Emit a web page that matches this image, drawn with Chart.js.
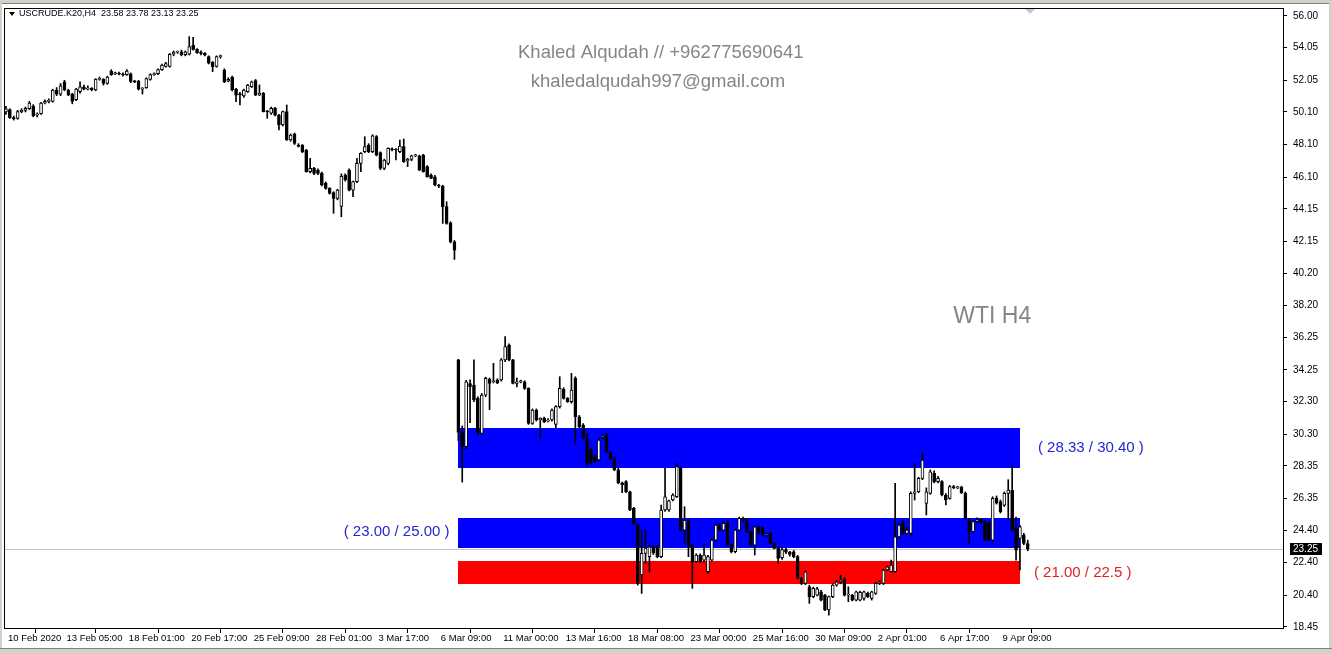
<!DOCTYPE html>
<html><head><meta charset="utf-8">
<script src="https://cdn.jsdelivr.net/npm/chart.js@4.4.0/dist/chart.umd.min.js"></script>
<style>html,body{margin:0;padding:0;background:#fff;overflow:hidden}#wrap{width:1332px;height:654px;position:relative}</style>
</head><body><div id="wrap"><canvas id="c" width="1332" height="654"></canvas></div>
<script>
const symbolTitle = 'USCRUDE.K20,H4  23.58 23.78 23.13 23.25';
const opens = [
50.10,50.25,49.75,49.70,50.12,50.20,50.30,50.45,49.90,50.00,
50.65,50.75,50.75,51.45,51.20,51.95,51.45,51.20,50.85,51.35,
51.65,51.50,51.55,51.45,52.10,52.10,51.85,52.60,52.45,52.48,
52.42,52.40,52.45,51.98,52.00,51.50,51.60,52.10,52.40,52.45,
52.70,52.90,52.90,53.65,53.78,53.80,53.62,53.65,54.20,53.95,
53.75,53.70,53.50,53.15,52.90,53.50,52.68,52.00,52.23,51.49,
51.20,51.08,51.35,51.66,52.03,51.15,51.25,50.12,50.02,50.32,
49.91,49.30,50.12,48.38,48.75,48.07,48.07,47.76,46.43,46.63,
46.53,46.33,45.71,45.40,45.14,44.79,44.30,46.22,46.53,45.30,
45.82,46.94,47.66,48.07,47.66,48.58,47.60,46.63,46.94,47.80,
47.78,47.66,47.97,47.10,47.19,47.40,47.39,47.45,46.74,46.22,
46.12,45.61,45.55,44.28,43.29,42.12,34.86,30.40,29.53,33.40,
33.32,32.50,30.35,32.70,33.67,33.52,33.63,33.63,34.86,35.78,
34.86,33.42,33.52,33.52,33.11,30.96,31.78,31.17,31.27,31.10,
31.17,30.90,31.99,33.05,32.50,32.29,33.73,31.37,30.86,30.04,
29.33,28.90,28.71,30.10,30.25,29.22,28.81,28.10,27.30,27.38,
26.76,25.74,24.71,21.64,22.97,22.77,23.38,23.38,22.77,25.64,
25.64,26.25,26.45,28.20,24.40,25.00,23.48,22.46,22.87,22.56,
21.84,22.56,23.79,24.71,24.40,24.92,23.48,23.07,24.40,25.12,
25.02,24.30,23.48,24.61,24.51,24.10,24.20,23.59,23.28,22.70,
23.20,23.05,23.07,22.77,21.43,21.13,20.92,20.31,20.40,20.61,
20.41,19.49,20.31,21.02,21.23,21.43,20.41,20.41,20.10,20.10,
20.20,20.51,20.20,20.51,21.13,21.13,21.95,21.84,21.84,23.99,
24.92,24.20,24.20,26.66,26.76,27.58,26.04,26.66,27.89,27.38,
27.38,26.56,26.35,27.07,27.00,27.05,26.66,25.02,24.30,24.92,
25.05,24.92,24.82,23.79,26.35,26.15,25.94,26.66,26.86,24.50,
23.89,24.10,23.58];
const highs = [
50.45,50.30,49.85,50.20,50.30,50.40,50.75,50.55,50.05,50.70,
50.85,50.90,51.50,51.60,51.85,52.05,51.50,51.25,51.55,51.95,
51.75,51.70,51.60,52.15,52.25,52.15,52.30,52.70,52.55,52.55,
52.50,52.70,52.50,52.05,52.05,51.60,52.20,52.45,52.50,52.75,
53.05,53.15,53.70,53.85,53.85,53.90,53.85,54.73,54.69,54.00,
53.85,53.75,53.55,53.20,53.55,53.60,52.75,52.20,52.30,51.55,
51.30,51.50,51.80,52.00,52.10,51.76,51.30,50.20,50.40,50.38,
49.95,50.15,50.53,48.75,48.80,48.15,48.10,47.80,47.25,46.70,
46.60,46.40,45.80,45.45,45.20,45.35,46.30,46.30,46.60,45.85,
47.25,47.60,48.58,48.15,48.70,48.65,47.65,47.20,47.90,47.90,
47.85,48.38,48.44,47.25,47.45,47.50,47.45,47.50,46.80,46.30,
46.20,45.65,45.60,44.58,43.35,42.20,34.90,30.80,33.60,33.63,
34.86,32.60,32.80,33.80,33.75,34.65,33.70,34.95,36.29,35.85,
34.90,33.75,33.62,33.58,33.15,31.85,31.85,31.30,31.35,31.25,
31.85,32.05,33.83,33.15,32.55,34.04,33.83,31.45,30.95,30.35,
29.40,29.00,30.00,30.30,30.35,29.25,28.90,28.20,27.35,27.45,
26.80,25.80,24.80,24.40,24.40,23.48,23.45,23.45,25.94,28.20,
26.25,26.65,28.50,28.30,25.84,25.05,23.55,22.95,22.95,23.59,
22.85,23.85,24.80,24.80,24.90,25.00,23.55,24.45,25.20,25.20,
25.10,24.35,24.65,24.70,24.60,24.20,24.25,23.65,23.35,23.35,
23.30,23.10,23.15,22.85,21.50,21.90,21.02,20.90,20.88,20.70,
20.45,20.35,21.10,21.30,21.64,21.50,20.92,20.45,20.65,20.65,
20.65,20.60,20.65,21.20,21.30,22.00,22.20,22.56,27.28,24.80,
25.00,24.55,26.75,28.50,27.65,29.12,27.00,28.10,28.05,27.70,
27.45,26.65,27.15,27.15,27.10,27.10,26.75,25.10,25.00,25.15,
25.10,25.00,24.90,26.45,26.50,26.25,26.75,27.50,28.40,25.20,
24.70,24.20,23.78];
const lows = [
49.95,49.70,49.60,49.65,50.05,50.10,50.25,49.80,49.80,49.95,
50.60,50.65,50.70,51.10,51.10,51.40,51.10,50.60,50.80,51.25,
51.45,51.45,51.40,51.40,52.05,51.75,51.80,52.35,52.40,52.38,
52.30,52.35,51.90,51.90,51.45,51.20,51.55,52.05,52.35,52.40,
52.65,52.85,52.85,53.55,53.70,53.55,53.55,53.60,53.90,53.70,
53.60,53.55,53.05,52.58,52.85,53.40,51.90,51.95,51.40,50.73,
50.53,51.00,51.30,51.60,51.10,51.10,50.10,49.71,49.95,49.85,
48.99,49.25,48.35,48.30,48.10,47.95,47.60,46.40,46.35,46.25,
46.25,45.55,45.35,45.05,43.87,44.70,43.66,45.85,45.25,44.89,
45.75,46.43,47.60,47.60,47.60,47.40,46.55,46.55,46.85,47.70,
47.15,47.60,47.00,46.74,47.10,47.35,46.50,46.40,46.10,46.00,
45.55,45.45,43.25,43.20,42.05,41.04,29.90,27.35,29.40,31.00,
32.30,30.25,30.30,32.60,31.80,33.45,33.40,33.55,34.75,34.80,
33.38,33.20,33.45,33.05,30.90,30.90,31.10,30.04,31.00,31.05,
31.10,30.70,31.90,32.45,32.25,32.20,29.73,30.70,30.00,28.30,
28.45,28.55,28.65,30.00,29.15,28.75,28.05,27.25,26.70,26.70,
25.60,24.75,21.02,20.51,22.36,21.84,22.90,22.70,22.70,25.55,
25.55,26.20,26.40,24.35,23.59,22.77,20.82,22.40,22.40,22.45,
21.75,22.50,23.70,24.35,24.35,23.45,23.00,23.00,24.35,24.95,
24.25,23.45,22.87,24.15,24.05,24.00,23.55,23.25,22.36,22.60,
22.95,22.80,22.70,21.40,21.05,21.05,19.90,20.25,20.35,20.05,
19.45,19.18,20.25,20.95,21.10,20.35,20.00,20.05,20.05,20.05,
20.10,20.25,20.10,20.45,21.05,21.05,21.90,21.80,21.80,23.90,
24.15,24.10,24.10,26.25,26.70,27.50,25.33,26.60,27.30,27.30,
26.50,25.95,26.30,26.95,26.95,26.65,25.05,23.60,24.25,24.85,
24.80,23.75,23.75,23.70,26.00,25.45,25.85,25.05,24.35,22.56,
21.95,23.50,23.13];
const closes = [
50.30,49.75,49.68,50.12,50.20,50.32,50.65,49.88,49.98,50.65,
50.75,50.80,51.45,51.20,51.70,51.45,51.15,50.75,51.50,51.65,
51.50,51.55,51.45,52.10,52.15,51.85,52.25,52.40,52.48,52.42,
52.38,52.62,51.98,51.95,51.50,51.55,52.15,52.40,52.45,52.70,
52.98,53.08,53.65,53.78,53.80,53.62,53.80,54.12,53.95,53.75,
53.70,53.60,53.10,52.88,53.50,53.52,51.96,52.10,51.45,51.14,
51.15,51.45,51.76,51.96,51.14,51.25,50.12,50.10,50.32,49.91,
49.30,50.12,48.38,48.68,48.17,47.99,47.66,46.43,46.63,46.33,
46.33,45.61,45.40,45.10,44.79,45.30,46.15,45.92,45.30,45.82,
46.94,47.56,47.97,47.66,48.63,47.45,46.63,47.15,47.86,47.78,
47.76,48.00,47.05,47.19,47.40,47.45,46.53,46.43,46.12,46.02,
45.61,45.55,44.28,43.25,42.12,41.61,30.40,29.53,33.52,33.22,
32.40,30.35,32.70,33.73,33.42,33.55,33.45,34.86,35.68,34.86,
33.42,33.52,33.55,33.11,30.96,31.78,31.17,31.27,31.06,31.17,
31.78,31.99,33.11,32.50,32.29,33.01,31.37,30.76,30.04,28.50,
28.60,28.60,29.94,30.18,29.22,28.81,28.10,27.30,27.20,26.76,
25.64,24.82,21.13,22.97,23.30,23.38,23.00,22.77,25.64,26.45,
26.20,26.56,28.30,24.40,25.00,23.38,22.46,22.87,22.46,22.87,
22.77,23.79,24.71,24.40,24.82,23.48,23.07,24.40,25.12,25.02,
24.30,23.48,24.61,24.20,24.10,24.10,23.59,23.28,22.66,23.20,
23.05,22.90,22.77,21.43,21.13,21.84,20.31,20.82,20.80,20.10,
19.49,20.31,21.02,21.23,21.33,20.41,20.45,20.10,20.61,20.58,
20.61,20.31,20.61,21.13,21.23,21.95,22.15,22.25,23.99,24.71,
24.20,24.41,26.66,26.76,27.58,28.71,26.76,27.99,27.38,27.58,
26.56,26.25,27.07,27.00,27.05,26.70,25.12,24.30,24.92,25.05,
24.90,23.79,23.79,26.35,26.05,25.53,26.66,26.86,24.41,23.17,
24.61,23.58,23.25];

const timeLabels = ['10 Feb 2020','13 Feb 05:00','18 Feb 01:00','20 Feb 17:00','25 Feb 09:00','28 Feb 01:00','3 Mar 17:00','6 Mar 09:00','11 Mar 00:00','13 Mar 16:00','18 Mar 08:00','23 Mar 00:00','25 Mar 16:00','30 Mar 09:00','2 Apr 01:00','6 Apr 17:00','9 Apr 09:00'];
const timeLabelBars = [0,15,31,47,63,79,95,111,127,143,159,175,191,207,223,239,255];
const priceTicks = [18.45,20.40,22.40,24.40,26.35,28.35,30.30,32.30,34.25,36.25,38.20,40.20,42.15,44.15,46.10,48.10,50.10,52.05,54.05,56.00];

const zoneLows   = [28.23, 23.29, 21.11];
const zoneHighs  = [30.67, 25.14, 22.52];
const zoneLabels = ['( 28.33 / 30.40 )', '( 23.00 / 25.00 )', '( 21.00 / 22.5 )'];
const zoneStartBar = 115.8;
const zoneEndBar = 260.0;

const watermarkLine1 = 'Khaled Alqudah // +962775690641';
const watermarkLine2 = 'khaledalqudah997@gmail.com';
const chartTitle = 'WTI H4';

const FONT = "'Liberation Sans', Arial, sans-serif";
const zoneColors = ['#0000ff', '#0000ff', '#ff0000'];
const zoneTextColors = ['#2525d0', '#2525d0', '#e02020'];

const idx = opens.map((_, i) => i);
const bodyData = idx.map(i => ({x: i, y: [Math.min(opens[i], closes[i]), Math.max(opens[i], closes[i])]}));
const wickData = idx.map(i => ({x: i, y: [lows[i], highs[i]]}));
const bodyFill = idx.map(i => closes[i] >= opens[i] ? '#ffffff' : '#000000');

const overlay = {
  id: 'overlay',
  beforeDatasetsDraw(chart) {
    const {ctx, chartArea: a, scales: {x, y}} = chart;
    ctx.save();
    ctx.beginPath(); ctx.rect(a.left, a.top, a.right - a.left, a.bottom - a.top); ctx.clip();
    ctx.fillStyle = '#858585';
    ctx.textAlign = 'center'; ctx.textBaseline = 'middle';
    ctx.font = '18.5px ' + FONT;
    ctx.fillText(watermarkLine1, a.left + (a.right - a.left) * 0.5135, a.top + 45);
    ctx.fillText(watermarkLine2, a.left + (a.right - a.left) * 0.5113, a.top + 74);
    ctx.font = '23px ' + FONT;
    ctx.fillText(chartTitle, a.left + (a.right - a.left) * 0.7727, a.top + 309);
    for (let k = 0; k < zoneLows.length; k++) {
      const x1 = x.getPixelForValue(zoneStartBar), x2 = x.getPixelForValue(zoneEndBar);
      const y1 = y.getPixelForValue(zoneHighs[k]), y2 = y.getPixelForValue(zoneLows[k]);
      ctx.fillStyle = zoneColors[k];
      ctx.fillRect(Math.round(x1), Math.round(y1), Math.round(x2 - x1), Math.round(y2 - y1));
    }
    const by = Math.round(y.getPixelForValue(closes[closes.length - 1])) + 0.5;
    ctx.strokeStyle = '#c4c4c4'; ctx.lineWidth = 1;
    ctx.beginPath(); ctx.moveTo(a.left, by); ctx.lineTo(a.right, by); ctx.stroke();
    ctx.restore();
  },
  afterDraw(chart) {
    const {ctx, chartArea: a, scales: {x, y}} = chart;
    ctx.save();
    ctx.font = '15px ' + FONT; ctx.textBaseline = 'middle';
    const xs = x.getPixelForValue(zoneStartBar), xe = x.getPixelForValue(zoneEndBar);
    const mid = k => y.getPixelForValue((zoneLows[k] + zoneHighs[k]) / 2);
    ctx.fillStyle = zoneTextColors[0]; ctx.textAlign = 'left';
    ctx.fillText(zoneLabels[0], xe + 18, mid(0));
    ctx.fillStyle = zoneTextColors[1]; ctx.textAlign = 'right';
    ctx.fillText(zoneLabels[1], xs - 8, mid(1) - 1);
    ctx.fillStyle = zoneTextColors[2]; ctx.textAlign = 'left';
    ctx.fillText(zoneLabels[2], xe + 14, mid(2) + 1);
    ctx.strokeStyle = '#000'; ctx.lineWidth = 1;
    ctx.strokeRect(Math.round(a.left) + 0.5, Math.round(a.top) + 0.5, Math.round(a.right - a.left), Math.round(a.bottom - a.top));
    ctx.fillStyle = '#000'; ctx.textAlign = 'left';
    ctx.font = '9px ' + FONT;
    ctx.beginPath(); ctx.moveTo(a.left + 5, a.top + 4); ctx.lineTo(a.left + 11, a.top + 4); ctx.lineTo(a.left + 8, a.top + 8); ctx.closePath(); ctx.fill();
    ctx.fillText(symbolTitle, a.left + 15, a.top + 6);
    const sx = x.getPixelForValue(closes.length - 0.4);
    ctx.fillStyle = '#c8c8c8';
    ctx.beginPath(); ctx.moveTo(sx - 5, a.top + 1); ctx.lineTo(sx + 5, a.top + 1); ctx.lineTo(sx, a.top + 6); ctx.closePath(); ctx.fill();
    const last = closes[closes.length - 1];
    const py = Math.round(y.getPixelForValue(last));
    ctx.fillStyle = '#000';
    ctx.fillRect(a.right + 7, py - 6, 32, 12);
    ctx.fillStyle = '#fff'; ctx.font = '10px ' + FONT;
    ctx.fillText(last.toFixed(2), a.right + 10, py + 0.5);
    ctx.fillStyle = '#d4d0c8';
    ctx.fillRect(0, 0, 1332, 3);
    ctx.fillRect(0, 0, 2, 654);
    ctx.fillRect(1329, 0, 3, 654);
    ctx.fillRect(0, 648, 1332, 6);
    ctx.fillStyle = '#808080';
    ctx.fillRect(0, 648, 1332, 1);
    ctx.fillRect(2, 3, 1327, 1);
    ctx.restore();
  }
};

new Chart(document.getElementById('c'), {
  type: 'bar',
  data: {
    datasets: [
      {data: bodyData, backgroundColor: bodyFill, borderColor: '#000', borderWidth: 1, borderSkipped: false, barThickness: 3, minBarLength: 1, grouped: false},
      {data: wickData, backgroundColor: '#000', borderWidth: 0, barThickness: 1, grouped: false}
    ]
  },
  options: {
    responsive: false, animation: false, events: [],
    layout: {padding: {left: 4, top: 8, right: 0, bottom: 0}},
    plugins: {legend: {display: false}, tooltip: {enabled: false}},
    scales: {
      x: {
        type: 'linear', position: 'bottom', min: -0.5, max: 327.45, offset: false,
        grid: {display: true, drawOnChartArea: false, drawTicks: true, tickLength: 5, color: '#000'},
        border: {display: true, color: '#000'},
        ticks: {autoSkip: false, maxRotation: 0, minRotation: 0, align: 'start', labelOffset: 2, padding: 0, color: '#000',
          font: {family: FONT, size: 9.5},
          callback: v => { const k = timeLabelBars.indexOf(v); return k >= 0 ? timeLabels[k] : ''; }},
        afterBuildTicks: s => { s.ticks = timeLabelBars.map(v => ({value: v})); },
        afterFit: s => { s.height = 26; s.paddingLeft = 0; s.paddingRight = 0; }
      },
      y: {
        type: 'linear', position: 'right', min: 18.385, max: 56.49,
        grid: {display: true, drawOnChartArea: false, drawTicks: true, tickLength: 4, color: '#000'},
        border: {display: true, color: '#000'},
        ticks: {padding: 6, color: '#000', font: {family: FONT, size: 10}, callback: v => Number(v).toFixed(2)},
        afterBuildTicks: s => { s.ticks = priceTicks.map(v => ({value: v})); },
        afterFit: s => { s.width = 49; s.paddingTop = 0; s.paddingBottom = 0; }
      }
    }
  },
  plugins: [overlay]
});
</script></body></html>
